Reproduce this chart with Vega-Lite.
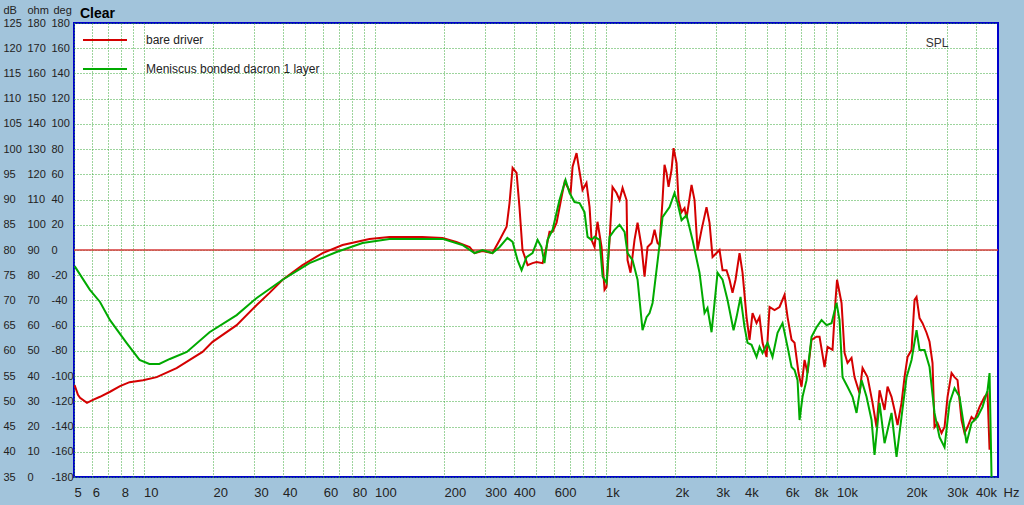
{
"$schema": "https://vega.github.io/schema/vega-lite/v6.json",
"width": 924, "height": 454,
"autosize": {"type": "none"},
"padding": {"left": 74, "top": 23, "right": 26, "bottom": 28},
"background": "#a2c4db",
"title": {"text": "Clear", "anchor": "start", "orient": "top", "frame": "group", "offset": -8, "dx": 6, "dy": 16, "baseline": "middle", "fontSize": 14, "fontWeight": "bold", "font": "Liberation Sans", "color": "#000000"},
"config": {
  "view": {"stroke": "#0000cc", "strokeWidth": 2, "fill": "#ffffff"},
  "font": "Liberation Sans",
  "axis": {"labelFont": "Liberation Sans", "titleFont": "Liberation Sans", "labelColor": "#222222", "titleColor": "#222222", "gridColor": "#3aa83a", "gridDash": [1, 2], "gridOpacity": 1, "gridWidth": 1},
  "legend": {"orient": "none", "legendX": 8, "legendY": -6, "padding": 0, "symbolType": "stroke", "symbolSize": 1936, "symbolStrokeWidth": 2, "labelFontSize": 12, "labelFont": "Liberation Sans", "labelColor": "#222222", "labelOffset": 18, "labelLimit": 0, "rowPadding": 0}
},
"data": {"values": [
{"s":"bare driver","f":5.03,"db":53.2},{"s":"bare driver","f":5.2,"db":51.3},{"s":"bare driver","f":5.31,"db":50.7},{"s":"bare driver","f":5.69,"db":49.7},{"s":"bare driver","f":6.04,"db":50.3},{"s":"bare driver","f":6.48,"db":50.9},{"s":"bare driver","f":7.16,"db":51.9},{"s":"bare driver","f":7.91,"db":53.0},{"s":"bare driver","f":8.7,"db":53.8},{"s":"bare driver","f":9.95,"db":54.2},{"s":"bare driver","f":11.4,"db":54.8},{"s":"bare driver","f":13.9,"db":56.6},{"s":"bare driver","f":18.0,"db":59.8},{"s":"bare driver","f":19.9,"db":61.8},{"s":"bare driver","f":25.3,"db":65.1},{"s":"bare driver","f":30.9,"db":69.1},{"s":"bare driver","f":35.1,"db":71.5},{"s":"bare driver","f":40.0,"db":74.1},{"s":"bare driver","f":48.8,"db":77.0},{"s":"bare driver","f":59.6,"db":79.4},{"s":"bare driver","f":72.7,"db":81.0},{"s":"bare driver","f":95.1,"db":82.2},{"s":"bare driver","f":116,"db":82.6},{"s":"bare driver","f":161,"db":82.6},{"s":"bare driver","f":197,"db":82.4},{"s":"bare driver","f":226,"db":81.6},{"s":"bare driver","f":258,"db":80.6},{"s":"bare driver","f":271,"db":79.4},{"s":"bare driver","f":293,"db":79.8},{"s":"bare driver","f":324,"db":79.4},{"s":"bare driver","f":348,"db":82.0},{"s":"bare driver","f":373,"db":84.6},{"s":"bare driver","f":384,"db":89.3},{"s":"bare driver","f":396,"db":96.3},{"s":"bare driver","f":412,"db":95.3},{"s":"bare driver","f":424,"db":88.5},{"s":"bare driver","f":437,"db":80.0},{"s":"bare driver","f":460,"db":77.0},{"s":"bare driver","f":483,"db":77.4},{"s":"bare driver","f":503,"db":77.6},{"s":"bare driver","f":534,"db":77.4},{"s":"bare driver","f":555,"db":80.6},{"s":"bare driver","f":572,"db":83.6},{"s":"bare driver","f":590,"db":83.6},{"s":"bare driver","f":614,"db":85.4},{"s":"bare driver","f":645,"db":90.5},{"s":"bare driver","f":665,"db":93.5},{"s":"bare driver","f":685,"db":92.5},{"s":"bare driver","f":706,"db":91.3},{"s":"bare driver","f":720,"db":96.5},{"s":"bare driver","f":749,"db":99.2},{"s":"bare driver","f":772,"db":95.5},{"s":"bare driver","f":795,"db":91.9},{"s":"bare driver","f":827,"db":93.3},{"s":"bare driver","f":853,"db":88.5},{"s":"bare driver","f":870,"db":82.0},{"s":"bare driver","f":896,"db":80.6},{"s":"bare driver","f":923,"db":85.6},{"s":"bare driver","f":961,"db":80.6},{"s":"bare driver","f":990,"db":72.1},{"s":"bare driver","f":1010,"db":72.7},{"s":"bare driver","f":1041,"db":82.0},{"s":"bare driver","f":1072,"db":92.5},{"s":"bare driver","f":1116,"db":91.3},{"s":"bare driver","f":1150,"db":89.9},{"s":"bare driver","f":1185,"db":92.3},{"s":"bare driver","f":1233,"db":89.9},{"s":"bare driver","f":1245,"db":78.0},{"s":"bare driver","f":1283,"db":75.5},{"s":"bare driver","f":1335,"db":82.0},{"s":"bare driver","f":1376,"db":85.4},{"s":"bare driver","f":1432,"db":80.6},{"s":"bare driver","f":1475,"db":74.7},{"s":"bare driver","f":1520,"db":80.6},{"s":"bare driver","f":1582,"db":81.4},{"s":"bare driver","f":1630,"db":84.0},{"s":"bare driver","f":1679,"db":81.4},{"s":"bare driver","f":1713,"db":81.0},{"s":"bare driver","f":1765,"db":89.9},{"s":"bare driver","f":1800,"db":96.9},{"s":"bare driver","f":1837,"db":95.3},{"s":"bare driver","f":1874,"db":92.5},{"s":"bare driver","f":1931,"db":95.9},{"s":"bare driver","f":1970,"db":100.2},{"s":"bare driver","f":2030,"db":97.2},{"s":"bare driver","f":2070,"db":89.9},{"s":"bare driver","f":2133,"db":87.5},{"s":"bare driver","f":2198,"db":88.3},{"s":"bare driver","f":2242,"db":86.3},{"s":"bare driver","f":2357,"db":92.9},{"s":"bare driver","f":2428,"db":89.9},{"s":"bare driver","f":2502,"db":80.0},{"s":"bare driver","f":2604,"db":84.0},{"s":"bare driver","f":2736,"db":88.5},{"s":"bare driver","f":2819,"db":85.4},{"s":"bare driver","f":2906,"db":78.6},{"s":"bare driver","f":3024,"db":79.4},{"s":"bare driver","f":3115,"db":80.0},{"s":"bare driver","f":3210,"db":76.0},{"s":"bare driver","f":3340,"db":76.0},{"s":"bare driver","f":3442,"db":74.1},{"s":"bare driver","f":3546,"db":71.5},{"s":"bare driver","f":3654,"db":74.1},{"s":"bare driver","f":3803,"db":79.4},{"s":"bare driver","f":3918,"db":75.5},{"s":"bare driver","f":4078,"db":66.7},{"s":"bare driver","f":4201,"db":62.2},{"s":"bare driver","f":4329,"db":67.5},{"s":"bare driver","f":4505,"db":65.5},{"s":"bare driver","f":4642,"db":66.7},{"s":"bare driver","f":4782,"db":61.6},{"s":"bare driver","f":4978,"db":58.8},{"s":"bare driver","f":5129,"db":68.7},{"s":"bare driver","f":5390,"db":68.1},{"s":"bare driver","f":5665,"db":68.7},{"s":"bare driver","f":5956,"db":71.1},{"s":"bare driver","f":6137,"db":66.7},{"s":"bare driver","f":6386,"db":62.2},{"s":"bare driver","f":6580,"db":61.6},{"s":"bare driver","f":6848,"db":55.6},{"s":"bare driver","f":7055,"db":52.9},{"s":"bare driver","f":7270,"db":58.2},{"s":"bare driver","f":7490,"db":55.6},{"s":"bare driver","f":7794,"db":62.2},{"s":"bare driver","f":8193,"db":62.8},{"s":"bare driver","f":8442,"db":62.8},{"s":"bare driver","f":8874,"db":56.8},{"s":"bare driver","f":9143,"db":60.8},{"s":"bare driver","f":9609,"db":60.2},{"s":"bare driver","f":9901,"db":70.1},{"s":"bare driver","f":10050,"db":74.1},{"s":"bare driver","f":10511,"db":69.5},{"s":"bare driver","f":10830,"db":59.6},{"s":"bare driver","f":11158,"db":57.6},{"s":"bare driver","f":11613,"db":58.6},{"s":"bare driver","f":11963,"db":54.8},{"s":"bare driver","f":12577,"db":51.6},{"s":"bare driver","f":12959,"db":56.6},{"s":"bare driver","f":13621,"db":54.8},{"s":"bare driver","f":14317,"db":49.7},{"s":"bare driver","f":14899,"db":44.9},{"s":"bare driver","f":15351,"db":52.2},{"s":"bare driver","f":16137,"db":48.3},{"s":"bare driver","f":16628,"db":52.9},{"s":"bare driver","f":17300,"db":50.9},{"s":"bare driver","f":17824,"db":48.3},{"s":"bare driver","f":18367,"db":45.3},{"s":"bare driver","f":19115,"db":49.7},{"s":"bare driver","f":19696,"db":54.8},{"s":"bare driver","f":20295,"db":58.8},{"s":"bare driver","f":21122,"db":60.2},{"s":"bare driver","f":21761,"db":70.1},{"s":"bare driver","f":22199,"db":70.7},{"s":"bare driver","f":22873,"db":66.5},{"s":"bare driver","f":23568,"db":65.5},{"s":"bare driver","f":24527,"db":63.6},{"s":"bare driver","f":25270,"db":61.8},{"s":"bare driver","f":26036,"db":57.6},{"s":"bare driver","f":26555,"db":44.9},{"s":"bare driver","f":27360,"db":45.7},{"s":"bare driver","f":28480,"db":43.7},{"s":"bare driver","f":29346,"db":44.9},{"s":"bare driver","f":30236,"db":50.9},{"s":"bare driver","f":31466,"db":55.6},{"s":"bare driver","f":32418,"db":54.8},{"s":"bare driver","f":33403,"db":54.2},{"s":"bare driver","f":34763,"db":46.3},{"s":"bare driver","f":35817,"db":43.7},{"s":"bare driver","f":36905,"db":44.9},{"s":"bare driver","f":38407,"db":46.9},{"s":"bare driver","f":39574,"db":46.3},{"s":"bare driver","f":41599,"db":48.9},{"s":"bare driver","f":43725,"db":50.9},{"s":"bare driver","f":45052,"db":51.6},{"s":"bare driver","f":45962,"db":40.4},
{"s":"Meniscus bonded dacron 1 layer","f":5.03,"db":76.8},{"s":"Meniscus bonded dacron 1 layer","f":5.86,"db":72.1},{"s":"Meniscus bonded dacron 1 layer","f":6.48,"db":69.7},{"s":"Meniscus bonded dacron 1 layer","f":7.16,"db":66.1},{"s":"Meniscus bonded dacron 1 layer","f":8.44,"db":61.6},{"s":"Meniscus bonded dacron 1 layer","f":9.61,"db":58.2},{"s":"Meniscus bonded dacron 1 layer","f":10.6,"db":57.4},{"s":"Meniscus bonded dacron 1 layer","f":11.7,"db":57.4},{"s":"Meniscus bonded dacron 1 layer","f":13.0,"db":58.4},{"s":"Meniscus bonded dacron 1 layer","f":15.4,"db":59.8},{"s":"Meniscus bonded dacron 1 layer","f":19.3,"db":63.7},{"s":"Meniscus bonded dacron 1 layer","f":25.3,"db":67.1},{"s":"Meniscus bonded dacron 1 layer","f":30.9,"db":70.5},{"s":"Meniscus bonded dacron 1 layer","f":40.0,"db":74.1},{"s":"Meniscus bonded dacron 1 layer","f":52.3,"db":77.4},{"s":"Meniscus bonded dacron 1 layer","f":68.5,"db":79.6},{"s":"Meniscus bonded dacron 1 layer","f":88.7,"db":81.4},{"s":"Meniscus bonded dacron 1 layer","f":116,"db":82.2},{"s":"Meniscus bonded dacron 1 layer","f":197,"db":82.2},{"s":"Meniscus bonded dacron 1 layer","f":240,"db":81.0},{"s":"Meniscus bonded dacron 1 layer","f":271,"db":79.4},{"s":"Meniscus bonded dacron 1 layer","f":293,"db":80.0},{"s":"Meniscus bonded dacron 1 layer","f":324,"db":79.4},{"s":"Meniscus bonded dacron 1 layer","f":348,"db":80.6},{"s":"Meniscus bonded dacron 1 layer","f":376,"db":82.4},{"s":"Meniscus bonded dacron 1 layer","f":396,"db":81.6},{"s":"Meniscus bonded dacron 1 layer","f":416,"db":78.0},{"s":"Meniscus bonded dacron 1 layer","f":433,"db":76.0},{"s":"Meniscus bonded dacron 1 layer","f":455,"db":78.6},{"s":"Meniscus bonded dacron 1 layer","f":483,"db":79.4},{"s":"Meniscus bonded dacron 1 layer","f":508,"db":82.0},{"s":"Meniscus bonded dacron 1 layer","f":528,"db":80.6},{"s":"Meniscus bonded dacron 1 layer","f":544,"db":77.4},{"s":"Meniscus bonded dacron 1 layer","f":561,"db":82.0},{"s":"Meniscus bonded dacron 1 layer","f":590,"db":84.0},{"s":"Meniscus bonded dacron 1 layer","f":632,"db":89.9},{"s":"Meniscus bonded dacron 1 layer","f":671,"db":93.9},{"s":"Meniscus bonded dacron 1 layer","f":699,"db":91.3},{"s":"Meniscus bonded dacron 1 layer","f":734,"db":89.5},{"s":"Meniscus bonded dacron 1 layer","f":772,"db":89.3},{"s":"Meniscus bonded dacron 1 layer","f":811,"db":87.5},{"s":"Meniscus bonded dacron 1 layer","f":836,"db":82.6},{"s":"Meniscus bonded dacron 1 layer","f":870,"db":82.0},{"s":"Meniscus bonded dacron 1 layer","f":896,"db":82.6},{"s":"Meniscus bonded dacron 1 layer","f":942,"db":82.0},{"s":"Meniscus bonded dacron 1 layer","f":971,"db":74.7},{"s":"Meniscus bonded dacron 1 layer","f":1010,"db":73.5},{"s":"Meniscus bonded dacron 1 layer","f":1041,"db":82.6},{"s":"Meniscus bonded dacron 1 layer","f":1094,"db":84.0},{"s":"Meniscus bonded dacron 1 layer","f":1150,"db":85.0},{"s":"Meniscus bonded dacron 1 layer","f":1209,"db":83.6},{"s":"Meniscus bonded dacron 1 layer","f":1245,"db":79.4},{"s":"Meniscus bonded dacron 1 layer","f":1309,"db":78.0},{"s":"Meniscus bonded dacron 1 layer","f":1376,"db":74.1},{"s":"Meniscus bonded dacron 1 layer","f":1446,"db":64.1},{"s":"Meniscus bonded dacron 1 layer","f":1505,"db":66.7},{"s":"Meniscus bonded dacron 1 layer","f":1551,"db":67.5},{"s":"Meniscus bonded dacron 1 layer","f":1598,"db":69.5},{"s":"Meniscus bonded dacron 1 layer","f":1713,"db":81.0},{"s":"Meniscus bonded dacron 1 layer","f":1765,"db":86.5},{"s":"Meniscus bonded dacron 1 layer","f":1893,"db":88.5},{"s":"Meniscus bonded dacron 1 layer","f":1989,"db":91.3},{"s":"Meniscus bonded dacron 1 layer","f":2050,"db":89.3},{"s":"Meniscus bonded dacron 1 layer","f":2133,"db":85.9},{"s":"Meniscus bonded dacron 1 layer","f":2242,"db":86.9},{"s":"Meniscus bonded dacron 1 layer","f":2380,"db":82.0},{"s":"Meniscus bonded dacron 1 layer","f":2552,"db":75.5},{"s":"Meniscus bonded dacron 1 layer","f":2683,"db":67.5},{"s":"Meniscus bonded dacron 1 layer","f":2763,"db":68.5},{"s":"Meniscus bonded dacron 1 layer","f":2877,"db":63.7},{"s":"Meniscus bonded dacron 1 layer","f":2964,"db":69.5},{"s":"Meniscus bonded dacron 1 layer","f":3054,"db":75.5},{"s":"Meniscus bonded dacron 1 layer","f":3210,"db":74.1},{"s":"Meniscus bonded dacron 1 layer","f":3374,"db":70.1},{"s":"Meniscus bonded dacron 1 layer","f":3582,"db":64.1},{"s":"Meniscus bonded dacron 1 layer","f":3691,"db":66.7},{"s":"Meniscus bonded dacron 1 layer","f":3841,"db":70.7},{"s":"Meniscus bonded dacron 1 layer","f":3997,"db":64.7},{"s":"Meniscus bonded dacron 1 layer","f":4119,"db":61.6},{"s":"Meniscus bonded dacron 1 layer","f":4286,"db":61.2},{"s":"Meniscus bonded dacron 1 layer","f":4505,"db":58.8},{"s":"Meniscus bonded dacron 1 layer","f":4642,"db":60.8},{"s":"Meniscus bonded dacron 1 layer","f":4782,"db":59.6},{"s":"Meniscus bonded dacron 1 layer","f":5027,"db":61.6},{"s":"Meniscus bonded dacron 1 layer","f":5284,"db":58.8},{"s":"Meniscus bonded dacron 1 layer","f":5554,"db":63.6},{"s":"Meniscus bonded dacron 1 layer","f":5838,"db":65.5},{"s":"Meniscus bonded dacron 1 layer","f":6137,"db":60.8},{"s":"Meniscus bonded dacron 1 layer","f":6386,"db":56.8},{"s":"Meniscus bonded dacron 1 layer","f":6580,"db":56.2},{"s":"Meniscus bonded dacron 1 layer","f":6780,"db":54.2},{"s":"Meniscus bonded dacron 1 layer","f":6916,"db":46.3},{"s":"Meniscus bonded dacron 1 layer","f":7126,"db":50.9},{"s":"Meniscus bonded dacron 1 layer","f":7415,"db":54.2},{"s":"Meniscus bonded dacron 1 layer","f":7794,"db":62.8},{"s":"Meniscus bonded dacron 1 layer","f":8193,"db":64.7},{"s":"Meniscus bonded dacron 1 layer","f":8612,"db":66.1},{"s":"Meniscus bonded dacron 1 layer","f":9054,"db":65.1},{"s":"Meniscus bonded dacron 1 layer","f":9514,"db":65.5},{"s":"Meniscus bonded dacron 1 layer","f":10000,"db":69.5},{"s":"Meniscus bonded dacron 1 layer","f":10303,"db":66.1},{"s":"Meniscus bonded dacron 1 layer","f":10616,"db":54.8},{"s":"Meniscus bonded dacron 1 layer","f":11158,"db":52.9},{"s":"Meniscus bonded dacron 1 layer","f":11729,"db":50.9},{"s":"Meniscus bonded dacron 1 layer","f":12207,"db":47.7},{"s":"Meniscus bonded dacron 1 layer","f":12830,"db":54.2},{"s":"Meniscus bonded dacron 1 layer","f":13486,"db":50.9},{"s":"Meniscus bonded dacron 1 layer","f":14175,"db":46.3},{"s":"Meniscus bonded dacron 1 layer","f":14604,"db":39.4},{"s":"Meniscus bonded dacron 1 layer","f":15351,"db":49.7},{"s":"Meniscus bonded dacron 1 layer","f":16137,"db":41.7},{"s":"Meniscus bonded dacron 1 layer","f":17300,"db":47.7},{"s":"Meniscus bonded dacron 1 layer","f":18185,"db":39.0},{"s":"Meniscus bonded dacron 1 layer","f":19115,"db":46.9},{"s":"Meniscus bonded dacron 1 layer","f":20095,"db":54.8},{"s":"Meniscus bonded dacron 1 layer","f":21122,"db":58.2},{"s":"Meniscus bonded dacron 1 layer","f":22199,"db":64.1},{"s":"Meniscus bonded dacron 1 layer","f":22873,"db":60.2},{"s":"Meniscus bonded dacron 1 layer","f":24043,"db":60.2},{"s":"Meniscus bonded dacron 1 layer","f":25270,"db":56.8},{"s":"Meniscus bonded dacron 1 layer","f":26555,"db":47.7},{"s":"Meniscus bonded dacron 1 layer","f":27911,"db":42.9},{"s":"Meniscus bonded dacron 1 layer","f":29346,"db":40.9},{"s":"Meniscus bonded dacron 1 layer","f":30850,"db":49.7},{"s":"Meniscus bonded dacron 1 layer","f":32418,"db":52.6},{"s":"Meniscus bonded dacron 1 layer","f":34075,"db":50.9},{"s":"Meniscus bonded dacron 1 layer","f":36540,"db":41.7},{"s":"Meniscus bonded dacron 1 layer","f":38407,"db":45.7},{"s":"Meniscus bonded dacron 1 layer","f":40779,"db":46.9},{"s":"Meniscus bonded dacron 1 layer","f":42860,"db":48.9},{"s":"Meniscus bonded dacron 1 layer","f":45052,"db":52.2},{"s":"Meniscus bonded dacron 1 layer","f":45962,"db":55.6},{"s":"Meniscus bonded dacron 1 layer","f":46881,"db":35.0}
]},
"layer": [
  {
    "data": {"values": [{"ref": 80}]},
    "mark": {"type": "rule", "color": "#d63a3a", "strokeWidth": 1.5},
    "encoding": {
      "y": {"field": "ref", "type": "quantitative", "scale": {"domain": [35, 125], "nice": false, "zero": false},
        "axis": {"orient": "left", "values": [35,40,45,50,55,60,65,70,75,80,85,90,95,100,105,110,115,120,125], "grid": false, "ticks": false, "domain": false, "labelAlign": "left", "labelBaseline": "middle", "labelPadding": 47, "labelFontSize": 11, "labelOverlap": false, "labelFlush": false, "labelExpr": "'' + (datum.value - 35) * 2", "title": "ohm", "titleAngle": 0, "titleX": -47, "titleY": -13, "titleAlign": "left", "titleBaseline": "middle", "titleFontSize": 11, "titleFontWeight": "normal"}}
    }
  },
  {
    "transform": [{"filter": "datum.s == 'bare driver'"}],
    "mark": {"type": "line", "strokeWidth": 2},
    "encoding": {
      "x": {"field": "f", "type": "quantitative", "scale": {"type": "log", "domain": [5, 50000], "nice": false},
        "axis": {"orient": "bottom", "values": [5,6,7,8,9,10,20,30,40,50,60,70,80,90,100,200,300,400,500,600,700,800,900,1000,2000,3000,4000,5000,6000,7000,8000,9000,10000,20000,30000,40000], "grid": true, "ticks": false, "domain": false, "labelAlign": "left", "labelBaseline": "middle", "labelPadding": 15, "labelFontSize": 13, "labelOverlap": false, "labelFlush": false, "labelExpr": "indexof([5,6,8,10,20,30,40,60,80,100,200,300,400,600,1000,2000,3000,4000,6000,8000,10000,20000,30000,40000], datum.value) >= 0 ? (datum.value >= 1000 ? (datum.value / 1000) + 'k' : '' + datum.value) : ''", "title": "Hz", "titleX": 929, "titleY": 15, "titleAlign": "left", "titleBaseline": "middle", "titleFontSize": 13, "titleFontWeight": "normal"}},
      "y": {"field": "db", "type": "quantitative", "scale": {"domain": [35, 125], "nice": false, "zero": false},
        "axis": {"orient": "left", "values": [35,40,45,50,55,60,65,70,75,80,85,90,95,100,105,110,115,120,125], "grid": true, "ticks": false, "domain": false, "labelAlign": "left", "labelBaseline": "middle", "labelPadding": 71, "labelFontSize": 11, "labelOverlap": false, "labelFlush": false, "title": "dB", "titleAngle": 0, "titleX": -71, "titleY": -13, "titleAlign": "left", "titleBaseline": "middle", "titleFontSize": 11, "titleFontWeight": "normal"}},
      "color": {"field": "s", "type": "nominal", "scale": {"domain": ["bare driver", "Meniscus bonded dacron 1 layer"], "range": ["#d40000", "#00aa00"]}, "legend": {"title": null}}
    }
  },
  {
    "transform": [{"filter": "datum.s != 'bare driver'"}],
    "mark": {"type": "line", "strokeWidth": 2},
    "encoding": {
      "x": {"field": "f", "type": "quantitative", "scale": {"type": "log", "domain": [5, 50000], "nice": false},
        "axis": {"orient": "top", "labels": false, "ticks": false, "domain": false, "grid": false, "title": "SPL", "titleX": 874, "titleY": 19, "titleAlign": "right", "titleBaseline": "middle", "titleFontSize": 12, "titleFontWeight": "normal", "titleColor": "#333333"}},
      "y": {"field": "db", "type": "quantitative", "scale": {"domain": [35, 125], "nice": false, "zero": false},
        "axis": {"orient": "left", "values": [35,40,45,50,55,60,65,70,75,80,85,90,95,100,105,110,115,120,125], "grid": false, "ticks": false, "domain": false, "labelAlign": "left", "labelBaseline": "middle", "labelPadding": 23, "labelFontSize": 11, "labelOverlap": false, "labelFlush": false, "labelExpr": "'' + (datum.value - 80) * 4", "title": "deg", "titleAngle": 0, "titleX": -21, "titleY": -13, "titleAlign": "left", "titleBaseline": "middle", "titleFontSize": 11, "titleFontWeight": "normal"}},
      "color": {"field": "s", "type": "nominal", "scale": {"domain": ["bare driver", "Meniscus bonded dacron 1 layer"], "range": ["#d40000", "#00aa00"]}, "legend": {"title": null}}
    }
  }
],
"resolve": {"axis": {"y": "independent", "x": "independent"}}
}
